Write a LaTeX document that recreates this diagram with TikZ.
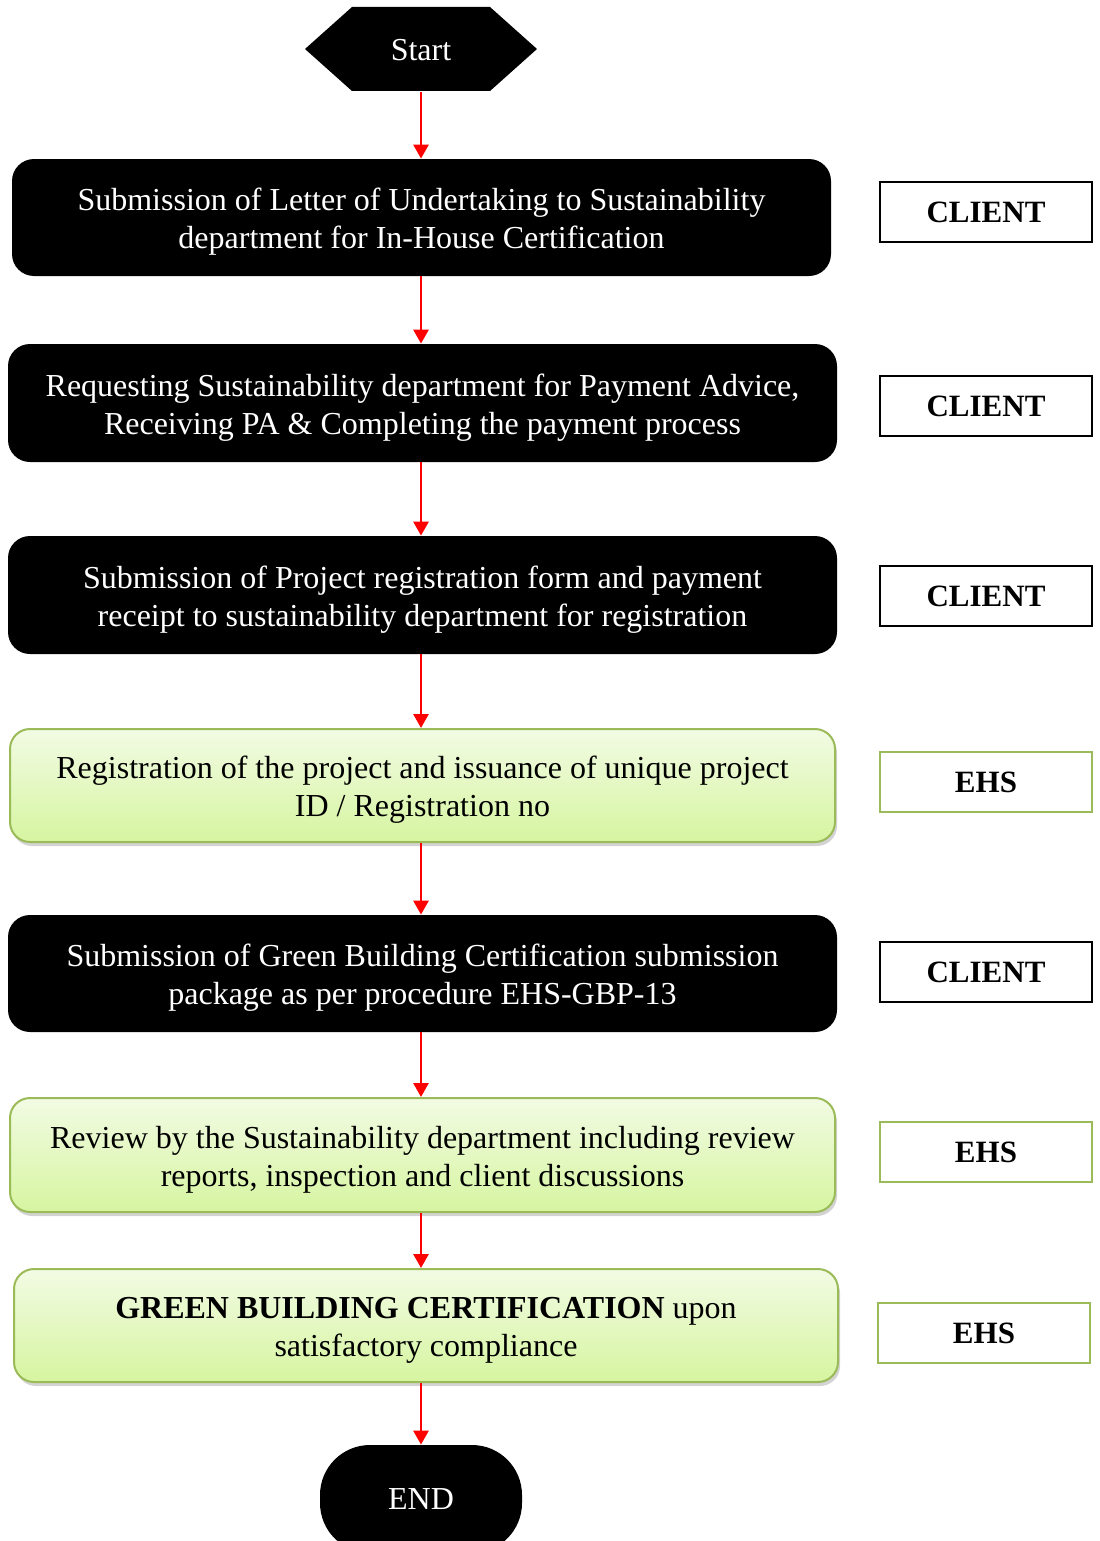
\documentclass[tikz,border=0pt]{standalone}
\usepackage{fontspec}
\setmainfont{Liberation Serif}
\usetikzlibrary{arrows.meta,shadows}
\definecolor{olivegreen}{RGB}{155,187,89}
\definecolor{gtop}{RGB}{242,251,228}
\definecolor{gbot}{RGB}{214,245,160}
\newcommand\topstrut{\rule{0pt}{15.5pt}}
\tikzset{
  base/.style={font=\fontsize{16}{19}\selectfont, align=center, inner sep=0pt},
  blackbox/.style={base, fill=black, text=white, rounded corners=11pt},
  greenbox/.style={base, draw=olivegreen, line width=1pt, rounded corners=10pt,
    top color=gtop, bottom color=gbot, text=black,
    drop shadow={opacity=0.35, shadow xshift=1pt, shadow yshift=-2pt}},
  rolebox/.style={font=\fontsize{15.5}{18}\selectfont\bfseries, draw=black, line width=0.7pt,
    minimum width=106pt, minimum height=30pt, inner sep=0pt},
  ehsbox/.style={rolebox, draw=olivegreen},
  flow/.style={draw=red, line width=1.4pt, -{Triangle[width=7.5pt,length=7pt]}}
}
\begin{document}
\begin{tikzpicture}[x=0.5pt,y=-0.5pt]
\path[use as bounding box, clip] (0,0) rectangle (1099,1541);
% Start hexagon
\fill[black] (305,49) -- (352,7) -- (490,7) -- (537,49) -- (490,91) -- (352,91) -- cycle;
\node[base, text=white, minimum width=116pt, minimum height=42pt] (start) at (421,50) {Start};
% main boxes
\node[blackbox, minimum width=409.5pt, minimum height=58.5pt] (b1) at (421.5,217.5)
  {\topstrut Submission of Letter of Undertaking to Sustainability\\department for In-House Certification};
\node[blackbox, minimum width=414.5pt, minimum height=59pt] (b2) at (422.5,403)
  {\topstrut Requesting Sustainability department for Payment Advice,\\Receiving PA \& Completing the payment process};
\node[blackbox, minimum width=414.5pt, minimum height=59pt] (b3) at (422.5,595)
  {\topstrut Submission of Project registration form and payment\\receipt to sustainability department for registration};
\node[greenbox, minimum width=412.5pt, minimum height=56.5pt] (b4) at (422.5,785.5)
  {\topstrut Registration of the project and issuance of unique project\\ID / Registration no};
\node[blackbox, minimum width=414.5pt, minimum height=58.5pt] (b5) at (422.5,973.5)
  {\topstrut Submission of Green Building Certification submission\\package as per procedure EHS-GBP-13};
\node[greenbox, minimum width=412.5pt, minimum height=57pt] (b6) at (422.5,1155)
  {\topstrut Review by the Sustainability department including review\\reports, inspection and client discussions};
\node[greenbox, minimum width=412pt, minimum height=56.5pt] (b7) at (426,1325.5)
  {\topstrut\textbf{GREEN BUILDING CERTIFICATION} upon\\satisfactory compliance};
\node[blackbox, rounded corners=25pt, minimum width=101pt, minimum height=54pt] (end) at (421,1499) {END};
% role boxes
\node[rolebox] (r1) at (986,212) {CLIENT};
\node[rolebox] (r2) at (986,406) {CLIENT};
\node[rolebox] (r3) at (986,596) {CLIENT};
\node[ehsbox] (r4) at (986,782) {EHS};
\node[rolebox] (r5) at (986,972) {CLIENT};
\node[ehsbox] (r6) at (986,1152) {EHS};
\node[ehsbox] (r7) at (984,1333) {EHS};
% connectors
\draw[flow] (start.south) -- (b1.north -| start.south);
\draw[flow] (b1.south -| start.south) -- (b2.north -| start.south);
\draw[flow] (b2.south -| start.south) -- (b3.north -| start.south);
\draw[flow] (b3.south -| start.south) -- (b4.north -| start.south);
\draw[flow] (b4.south -| start.south) -- (b5.north -| start.south);
\draw[flow] (b5.south -| start.south) -- (b6.north -| start.south);
\draw[flow] (b6.south -| start.south) -- (b7.north -| start.south);
\draw[flow] (b7.south -| start.south) -- (end.north -| start.south);
\end{tikzpicture}
\end{document}
